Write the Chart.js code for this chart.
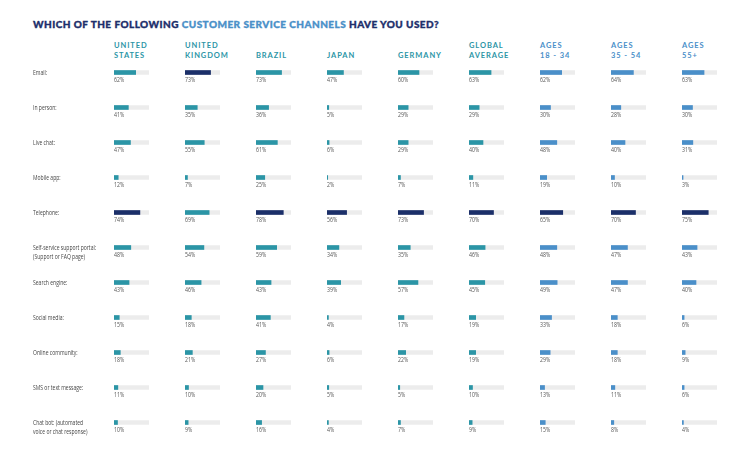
<!DOCTYPE html>
<html>
<head>
<meta charset="utf-8">
<script src="https://cdn.jsdelivr.net/npm/chart.js@4"></script>
<style>
body { margin: 0; background: #fff; width: 750px; height: 463px; overflow: hidden; position: relative; font-family: 'Lato', sans-serif; }
#title { position: absolute; left: 33px; top: 18px; font-size: 10px; font-weight: 900; letter-spacing: 0.45px; color: #1d2f6b; white-space: nowrap; -webkit-text-stroke: 0.35px currentColor; }
#title span { color: #4a90c8; }
.hd { position: absolute; top: 40px; height: 20px; font-size: 7.5px; font-weight: 700; letter-spacing: 0.9px; line-height: 9.5px; display: flex; align-items: flex-end; white-space: nowrap; }
canvas { position: absolute; }
</style>
</head>
<body>
<div id="title">WHICH OF THE FOLLOWING <span>CUSTOMER SERVICE CHANNELS</span> HAVE YOU USED?</div>
<div id="grid"></div>
<script>
// ── Datos ──
const channels = ['Email:', 'In person:', 'Live chat:', 'Mobile app:', 'Telephone:',
    ['Self-service support portal:', '(Support or FAQ page)'], 'Search engine:', 'Social media:',
    'Online community:', 'SMS or text message:', ['Chat bot: (automated', 'voice or chat response)']];

const groups = [['UNITED', 'STATES'], ['UNITED', 'KINGDOM'], ['BRAZIL'], ['JAPAN'], ['GERMANY'],
    ['GLOBAL', 'AVERAGE'], ['AGES', '18 - 34'], ['AGES', '35 - 54'], ['AGES', '55+']];

const unitedStates  = [62, 41, 47, 12, 74, 48, 43, 15, 18, 11, 10];
const unitedKingdom = [73, 35, 55, 7, 69, 54, 46, 18, 21, 10, 9];
const brazil        = [73, 36, 61, 25, 78, 59, 43, 41, 27, 20, 16];
const japan         = [47, 5, 6, 2, 56, 34, 39, 4, 6, 5, 4];
const germany       = [60, 29, 29, 7, 73, 35, 57, 17, 22, 5, 7];
const globalAverage = [63, 29, 40, 11, 70, 46, 45, 19, 19, 10, 9];
const ages18to34    = [62, 30, 48, 19, 65, 48, 49, 33, 29, 13, 15];
const ages35to54    = [64, 28, 40, 10, 70, 47, 47, 18, 18, 11, 8];
const ages55plus    = [63, 30, 31, 3, 75, 43, 40, 6, 9, 6, 4];

const columns = [unitedStates, unitedKingdom, brazil, japan, germany, globalAverage, ages18to34, ages35to54, ages55plus];

// ── Estilo ──
const TEAL = '#2b95a6', BLUE = '#4a8fc9', NAVY = '#1b2f69', TRACK = '#ececec';
const COL_X = 114, COL_STEP = 71, TOP = 55, ROW_H = 35;
const SQUEEZE = 0.8; // texto condensado como en el original

// etiquetas de porcentaje bajo cada barra
const pctLabels = {
    id: 'pctLabels',
    afterDatasetsDraw(chart) {
        const ctx = chart.ctx;
        const meta = chart.getDatasetMeta(0);
        const left = chart.chartArea.left;
        ctx.save();
        ctx.font = "6.5px 'Open Sans', sans-serif";
        ctx.fillStyle = '#555';
        ctx.textBaseline = 'middle';
        ctx.textAlign = 'left';
        meta.data.forEach(function (bar, i) {
            ctx.save();
            ctx.translate(left, bar.y + 8);
            ctx.scale(SQUEEZE, 1);
            ctx.fillText(chart.data.datasets[0].data[i] + '%', 0, 0);
            ctx.restore();
        });
        ctx.restore();
    }
};

// nombres de canal a la izquierda (solo primera columna)
const rowLabels = {
    id: 'rowLabels',
    afterDraw(chart) {
        const ctx = chart.ctx, y = chart.scales.y;
        ctx.save();
        ctx.font = "7px 'Open Sans', sans-serif";
        ctx.fillStyle = '#444';
        ctx.textBaseline = 'middle';
        chart.data.labels.forEach(function (lab, i) {
            const lines = Array.isArray(lab) ? lab : [lab];
            const py = y.getPixelForValue(i);
            lines.forEach(function (l, k) {
                ctx.save();
                ctx.translate(33, py + k * 9.5);
                ctx.scale(0.72, 1);
                ctx.fillText(l, 0, 0);
                ctx.restore();
            });
        });
        ctx.restore();
    }
};

const grid = document.getElementById('grid');

columns.forEach(function (vals, i) {
    const base = i < 6 ? TEAL : BLUE;
    const max = Math.max(...vals);
    const x = COL_X + i * COL_STEP;

    const hd = document.createElement('div');
    hd.className = 'hd';
    hd.style.left = x + 'px';
    hd.style.color = base;
    hd.innerHTML = groups[i].join('<br>');
    grid.appendChild(hd);

    const cv = document.createElement('canvas');
    const first = i === 0;
    cv.width = first ? x + 35 : 35;
    cv.height = ROW_H * channels.length;
    cv.style.left = (first ? 0 : x) + 'px';
    cv.style.top = TOP + 'px';
    grid.appendChild(cv);

    new Chart(cv, {
        type: 'bar',
        data: {
            labels: channels,
            datasets: [
                { data: vals, backgroundColor: vals.map(v => v === max ? NAVY : base), barThickness: 4, grouped: false, order: 1, borderWidth: 0 },
                { data: channels.map(() => 100), backgroundColor: TRACK, barThickness: 4, grouped: false, order: 2, borderWidth: 0 }
            ]
        },
        options: {
            indexAxis: 'y',
            responsive: false,
            animation: false,
            layout: { padding: { left: first ? x : 0 } },
            plugins: { legend: { display: false }, tooltip: { enabled: false } },
            scales: {
                x: { display: false, min: 0, max: 100 },
                y: { display: false, offset: true }
            }
        },
        plugins: first ? [pctLabels, rowLabels] : [pctLabels]
    });
});
</script>
</body>
</html>
